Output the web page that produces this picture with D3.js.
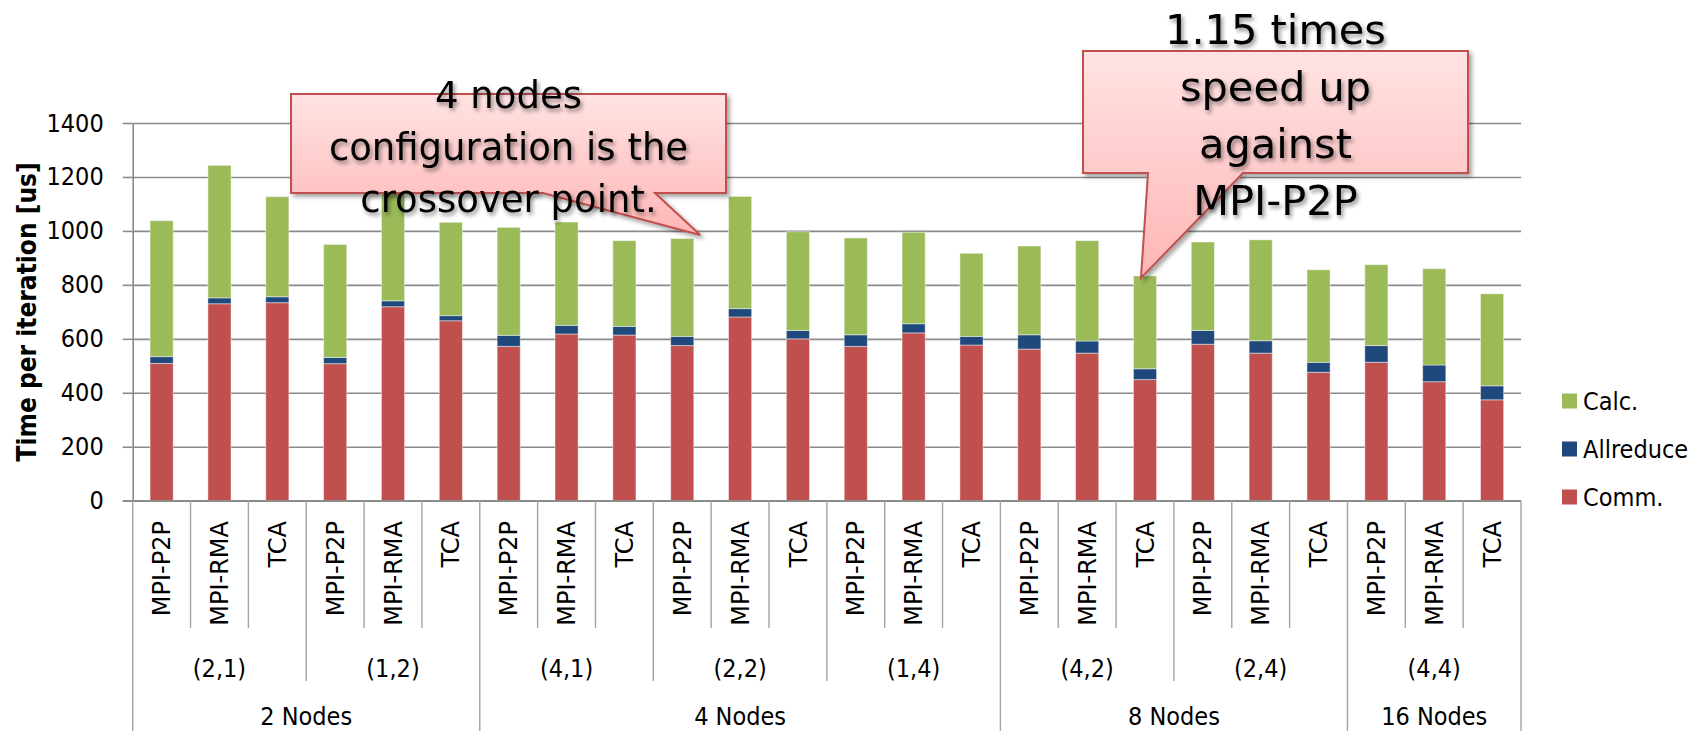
<html>
  <head>
    <meta charset="utf-8">
    <title>Time per iteration</title>
    <script src="https://cdn.jsdelivr.net/npm/d3@7"></script>
    <style>
      body { margin: 0; background: #fff; }
      .cond { font-family: 'DejaVu Sans Condensed', 'DejaVu Sans', sans-serif; font-stretch: condensed; }
    </style>
  </head>
  <body>
    <svg width="1692" height="731"></svg>

    <script type="text/javascript">
      // ---- data ----
      var methods = ["MPI-P2P", "MPI-RMA", "TCA"];
      var configs = ["(2,1)", "(1,2)", "(4,1)", "(2,2)", "(1,4)", "(4,2)", "(2,4)", "(4,4)"];
      var nodeLabels = ["2 Nodes", "4 Nodes", "8 Nodes", "16 Nodes"];
      var configsPerNode = [2, 3, 2, 1];

      var comm      = [509, 730, 734, 508, 719, 667, 572, 618, 614, 575, 681, 600, 572, 622, 577, 562, 547, 449, 580, 547, 476, 513, 441, 374];
      var allreduce = [25, 22, 22, 23, 22, 19, 41, 32, 32, 34, 31, 31, 43, 34, 32, 53, 45, 40, 51, 46, 37, 62, 62, 52];
      var calc      = [504, 491, 371, 419, 409, 346, 400, 383, 318, 363, 416, 366, 359, 339, 308, 329, 372, 344, 328, 374, 343, 300, 357, 341];

      var seriesNames = ["Comm.", "Allreduce", "Calc."];
      var seriesColors = ["#C0504D", "#1F497D", "#9BBB59"];
      var yTicks = [0, 200, 400, 600, 800, 1000, 1200, 1400];
      var yTitle = "Time per iteration [us]";

      var note1 = ["4 nodes", "configuration is the", "crossover point."];
      var note2 = ["1.15 times", "speed up", "against", "MPI-P2P"];

      // ---- layout ----
      var plotLeft = 132.7, plotRight = 1521, plotTop = 123, plotBottom = 500.7;
      var width = plotRight - plotLeft;

      var rows = comm.map(function(c, i){
        return {i: i, method: methods[i % 3], "Comm.": c, "Allreduce": allreduce[i], "Calc.": calc[i]};
      });

      var xScale = d3.scaleBand().domain(rows.map(d=>d.i)).range([plotLeft, plotRight]).paddingInner(0).paddingOuter(0);
      var yScale = d3.scaleLinear().domain([0, 1400]).range([plotBottom, plotTop]);
      var colorScale = d3.scaleOrdinal().domain(seriesNames).range(seriesColors);
      var bw = xScale.bandwidth();
      var barW = bw * 0.4;

      var svg = d3.select("svg");
      var defs = svg.append("defs");

      var grad = defs.append("linearGradient").attr("id", "pink").attr("x1", 0).attr("y1", 0).attr("x2", 0).attr("y2", 1);
      grad.append("stop").attr("offset", "0%").attr("stop-color", "#FFE3E3");
      grad.append("stop").attr("offset", "100%").attr("stop-color", "#FFB5B5");

      var boxShadow = defs.append("filter").attr("id", "boxShadow").attr("x", "-10%").attr("y", "-10%").attr("width", "130%").attr("height", "140%");
      boxShadow.append("feDropShadow").attr("dx", 3).attr("dy", 3).attr("stdDeviation", 2)
        .attr("flood-color", "#000").attr("flood-opacity", 0.35);

      var textShadow = defs.append("filter").attr("id", "textShadow").attr("x", "-10%").attr("y", "-30%").attr("width", "130%").attr("height", "170%");
      textShadow.append("feDropShadow").attr("dx", 2).attr("dy", 3).attr("stdDeviation", 2)
        .attr("flood-color", "#000").attr("flood-opacity", 0.45);

      // gridlines
      var gridAxis = d3.axisLeft(yScale).tickValues(yTicks).tickSize(-(width)).tickFormat("");
      var grid = svg.append("g").attr("transform", "translate(" + plotLeft + ",0)").call(gridAxis);
      grid.select(".domain").remove();
      grid.selectAll("line").attr("stroke", "#8a8a8a").attr("stroke-width", 1.6);

      // y axis with ticks
      var yAxis = d3.axisLeft(yScale).tickValues(yTicks).tickSize(10).tickSizeOuter(0).tickPadding(19).tickFormat(d3.format("d"));
      var yAxisGroup = svg.append("g").attr("transform", "translate(" + plotLeft + ",0)").call(yAxis);
      yAxisGroup.select(".domain").attr("stroke", "#8a8a8a").attr("stroke-width", 1.6);
      yAxisGroup.selectAll(".tick line").attr("stroke", "#8a8a8a").attr("stroke-width", 1.6);
      yAxisGroup.selectAll(".tick text").attr("class", "cond").attr("font-size", 25).attr("fill", "#000");

      svg.append("text")
        .attr("class", "cond")
        .attr("transform", "translate(35.5," + ((plotTop + plotBottom) / 2) + ") rotate(-90)")
        .attr("text-anchor", "middle")
        .attr("font-weight", "bold")
        .attr("font-size", 26)
        .text(yTitle);

      // stacked bars
      var stacked = d3.stack().keys(seriesNames)(rows);
      svg.append("g").selectAll("g")
        .data(stacked)
        .enter()
        .append("g")
        .attr("fill", d=>colorScale(d.key))
        .selectAll("rect")
        .data(d=>d)
        .enter()
        .append("rect")
        .attr("x", d=>xScale(d.data.i) + (bw - barW) / 2)
        .attr("y", d=>yScale(d[1]))
        .attr("width", barW)
        .attr("height", d=>yScale(d[0]) - yScale(d[1]))
        .attr("stroke", "#ffffff")
        .attr("stroke-opacity", 0.45)
        .attr("stroke-width", 1);

      // category axis (three levels)
      var catAxis = svg.append("g");
      catAxis.append("line")
        .attr("x1", plotLeft - 10).attr("x2", plotRight).attr("y1", plotBottom).attr("y2", plotBottom)
        .attr("stroke", "#8a8a8a").attr("stroke-width", 1.6);

      var level1Bottom = 628, level2Bottom = 681, level3Bottom = 731;
      var nodeEdges = [0];
      configsPerNode.forEach(function(n){ nodeEdges.push(nodeEdges[nodeEdges.length - 1] + n * 3); });

      var sepIdx = d3.range(0, rows.length + 1);
      catAxis.selectAll(".sep")
        .data(sepIdx)
        .enter()
        .append("line")
        .attr("class", "sep")
        .attr("x1", d=>d < rows.length ? xScale(d) : plotRight)
        .attr("x2", d=>d < rows.length ? xScale(d) : plotRight)
        .attr("y1", plotBottom)
        .attr("y2", function(d){
          if (nodeEdges.indexOf(d) >= 0) return level3Bottom;
          if (d % 3 === 0) return level2Bottom;
          return level1Bottom;
        })
        .attr("stroke", "#a3a3a3")
        .attr("stroke-width", 1.4);

      catAxis.selectAll(".method")
        .data(rows)
        .enter()
        .append("text")
        .attr("class", "method")
        .attr("transform", d=>"translate(" + (xScale(d.i) + bw / 2) + ",521) rotate(-90)")
        .attr("text-anchor", "end")
        .attr("dy", "0.36em")
        .attr("font-family", "'DejaVu Sans', sans-serif")
        .attr("font-size", 24)
        .text(d=>d.method);

      catAxis.selectAll(".config")
        .data(configs)
        .enter()
        .append("text")
        .attr("class", "cond")
        .attr("x", (d, i)=>xScale(i * 3) + bw * 1.5)
        .attr("y", 668)
        .attr("dy", "0.35em")
        .attr("text-anchor", "middle")
        .attr("font-size", 25)
        .text(d=>d);

      catAxis.selectAll(".node")
        .data(nodeLabels)
        .enter()
        .append("text")
        .attr("class", "cond")
        .attr("x", (d, i)=>(xScale(nodeEdges[i]) + (nodeEdges[i + 1] < rows.length ? xScale(nodeEdges[i + 1]) : plotRight)) / 2)
        .attr("y", 716)
        .attr("dy", "0.35em")
        .attr("text-anchor", "middle")
        .attr("font-size", 25)
        .text(d=>d);

      // legend (top to bottom: Calc., Allreduce, Comm.)
      var legendItems = seriesNames.slice().reverse();
      var legend = svg.append("g").selectAll("g")
        .data(legendItems)
        .enter()
        .append("g")
        .attr("transform", (d, i)=>"translate(1562," + (401 + i * 48) + ")");
      legend.append("rect").attr("x", 0).attr("y", -7.5).attr("width", 15).attr("height", 15).attr("fill", d=>colorScale(d));
      legend.append("text").attr("class", "cond").attr("x", 21).attr("dy", "0.36em").attr("font-size", 25).text(d=>d);

      // callouts
      function callout(box, tail, lines, fontSize, firstBaseline, lineGap){
        var g = svg.append("g");
        var path = d3.path();
        path.moveTo(box.x0, box.y0);
        path.lineTo(box.x1, box.y0);
        path.lineTo(box.x1, box.y1);
        path.lineTo(tail.b, box.y1);
        path.lineTo(tail.tx, tail.ty);
        path.lineTo(tail.a, box.y1);
        path.lineTo(box.x0, box.y1);
        path.closePath();
        g.append("path")
          .attr("d", path.toString())
          .attr("fill", "url(#pink)")
          .attr("stroke", "#C0504D")
          .attr("stroke-width", 2)
          .attr("filter", "url(#boxShadow)");
        g.selectAll("text")
          .data(lines)
          .enter()
          .append("text")
          .attr("font-family", "'DejaVu Sans', sans-serif")
          .attr("x", (box.x0 + box.x1) / 2)
          .attr("y", (d, i)=>firstBaseline + i * lineGap)
          .attr("text-anchor", "middle")
          .attr("font-size", fontSize)
          .attr("filter", "url(#textShadow)")
          .text(d=>d);
      }

      callout({x0: 291, x1: 726, y0: 94, y1: 193},
              {a: 543, b: 655, tx: xScale(9) + bw * 0.81, ty: yScale(985)},
              note1, 37, 108.3, 51.7);

      callout({x0: 1083, x1: 1468, y0: 51, y1: 173},
              {a: 1148, b: 1243, tx: xScale(17) + bw / 2 - 4, ty: yScale(comm[17] + allreduce[17] + calc[17]) + 2},
              note2, 41.5, 44, 57);
    </script>
  </body>
</html>
